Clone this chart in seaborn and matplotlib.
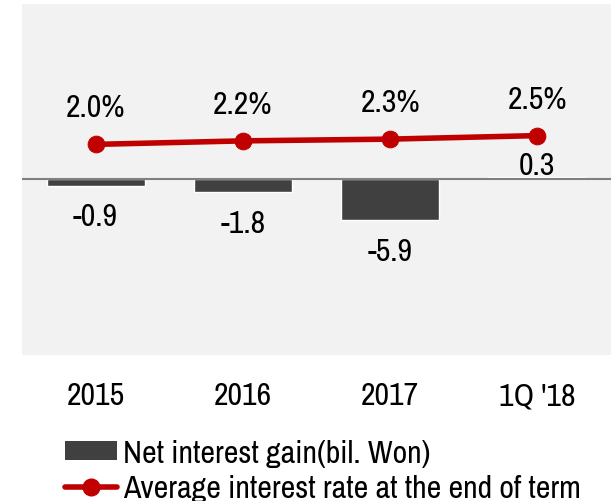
import numpy as np
import pandas as pd
import seaborn as sns
import matplotlib.pyplot as plt
from matplotlib.patches import Patch
from matplotlib.lines import Line2D

# chart data
periods = ['2015', '2016', '2017', "1Q '18"]
net_gain = [-0.9, -1.8, -5.9, 0.3]
avg_rate = [2.0, 2.2, 2.3, 2.5]
legend_labels = ['Net interest gain(bil. Won)', 'Average interest rate at the end of term']

bar_colors = ['#404040', '#404040', '#404040', '#ffc000']
red = '#c00000'

sns.set_style('white')
plt.rcParams['font.family'] = ['Archivo Narrow', 'DejaVu Sans']
plt.rcParams['text.color'] = 'black'
plt.rcParams['xtick.color'] = 'black'

df = pd.DataFrame({'period': periods, 'gain': net_gain, 'rate': avg_rate})

fig = plt.figure(figsize=(6.11, 5.02), dpi=100)
ax = fig.add_axes([0.036, 0.291, 0.964, 0.699])
ax.set_facecolor('#f2f2f2')

# bars
sns.barplot(data=df, x='period', y='gain', hue='period', palette=bar_colors,
            width=0.667, legend=False, ax=ax, zorder=2)
ax.axhline(0, color='#808080', lw=1.5, zorder=3)
ax.set_ylim(-25.5, 25.5)
ax.set_xlim(-0.5, 3.5)

for i, v in enumerate(net_gain):
    off = 9.1 if v > 0 else -22.2
    ax.annotate(f'{v:.1f}', (i, v), xytext=(0, off), textcoords='offset points',
                ha='center', va='center', fontsize=23)

# rate line on secondary axis
ax2 = ax.twinx()
sns.lineplot(x=np.arange(len(periods)), y=avg_rate, ax=ax2, color=red,
             lw=4, marker='o', markersize=12, markeredgecolor=red)
ax2.set_ylim(-10, 10)
for i, v in enumerate(avg_rate):
    ax2.annotate(f'{v:.1f}%', (i, v), xytext=(0, 26.6), textcoords='offset points',
                 ha='center', va='center', fontsize=23)

for a in (ax, ax2):
    for s in a.spines.values():
        s.set_visible(False)
    a.set_yticks([])
    a.set_ylabel('')
ax.set_xlabel('')
ax.tick_params(axis='x', length=0, pad=19, labelsize=23)

handles = [Patch(facecolor='#404040', edgecolor='none'),
           Line2D([], [], color=red, lw=4, marker='o', markersize=12)]
fig.legend(handles, legend_labels, loc='upper left', bbox_to_anchor=(0.106, 0.124),
           frameon=False, fontsize=23, handlelength=1.62, handleheight=0.52,
           handletextpad=0.19, labelspacing=0.24, borderpad=0, borderaxespad=0)

fig.savefig('out.png', dpi=100)
